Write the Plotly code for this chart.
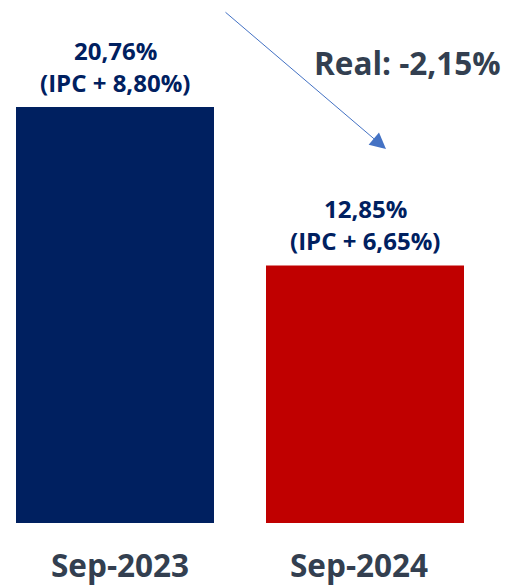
import plotly.graph_objects as go

# Values shown on the chart
periods = ["Sep-2023", "Sep-2024"]
rates = [20.76, 12.85]          # nominal rate, %
ipc_spread = [8.80, 6.65]       # spread over IPC, %
real_change = -2.15             # change in real terms, %
bar_colors = ["#002060", "#C00000"]


def fmt(v):
    return f"{v:.2f}".replace(".", ",")


W, H = 526, 588
x_pos = list(range(len(periods)))

# Axis scaling: 250 px per category, bar base at 523 px
px_per_x = 250.0
x0 = -115 / px_per_x
x1 = x0 + W / px_per_x
px_per_y = 416 / rates[0]
y1 = 523 / px_per_y
y0 = -(H - 523) / px_per_y

fig = go.Figure()
fig.add_trace(go.Bar(
    x=x_pos, y=rates, width=198 / px_per_x,
    marker=dict(color=bar_colors, line=dict(width=0)),
    hoverinfo="skip",
))

label_font = dict(family="Open Sans", size=24, color="#002060")
annotations = []
for xi, v, s in zip(x_pos, rates, ipc_spread):
    annotations.append(dict(
        x=xi, y=v, xref="x", yref="y", text=f"<b>{fmt(v)}%</b>",
        showarrow=False, yanchor="middle", yshift=57, font=label_font,
    ))
    annotations.append(dict(
        x=xi, y=v, xref="x", yref="y", text=f"<b>(IPC + {fmt(s)}%)</b>",
        showarrow=False, yanchor="middle", yshift=25, font=label_font,
    ))

cat_font = dict(family="Open Sans", size=31.5, color="#333F50")
cat_offsets = [5, -6]
for xi, name, dx in zip(x_pos, periods, cat_offsets):
    annotations.append(dict(
        x=xi, y=0, xref="x", yref="y", text=f"<b>{name}</b>",
        showarrow=False, yanchor="middle", yshift=-41, xshift=dx,
        font=cat_font, borderpad=0,
    ))

# Trend arrow from above the first bar towards the second
annotations.append(dict(
    x=x0 + 386 / px_per_x, y=(523 - 149) / px_per_y,
    ax=x0 + 224 / px_per_x, ay=(523 - 11) / px_per_y,
    xref="x", yref="y", axref="x", ayref="y",
    text="", showarrow=True, arrowhead=2, arrowsize=3.2, arrowwidth=1,
    arrowcolor="#4472C4", standoff=0,
))

annotations.append(dict(
    x=x0 + 407 / px_per_x, y=(523 - 62) / px_per_y, xref="x", yref="y",
    text=f"<b>Real: {fmt(real_change)}%</b>", showarrow=False,
    font=dict(family="Open Sans", size=31.5, color="#333F50"),
))

fig.update_layout(
    width=W, height=H,
    margin=dict(l=0, r=0, t=0, b=0),
    paper_bgcolor="white", plot_bgcolor="white",
    showlegend=False,
    xaxis=dict(range=[x0, x1], visible=False, fixedrange=True),
    yaxis=dict(range=[y0, y1], visible=False, fixedrange=True),
    annotations=annotations,
)

fig.write_html("out.html")
